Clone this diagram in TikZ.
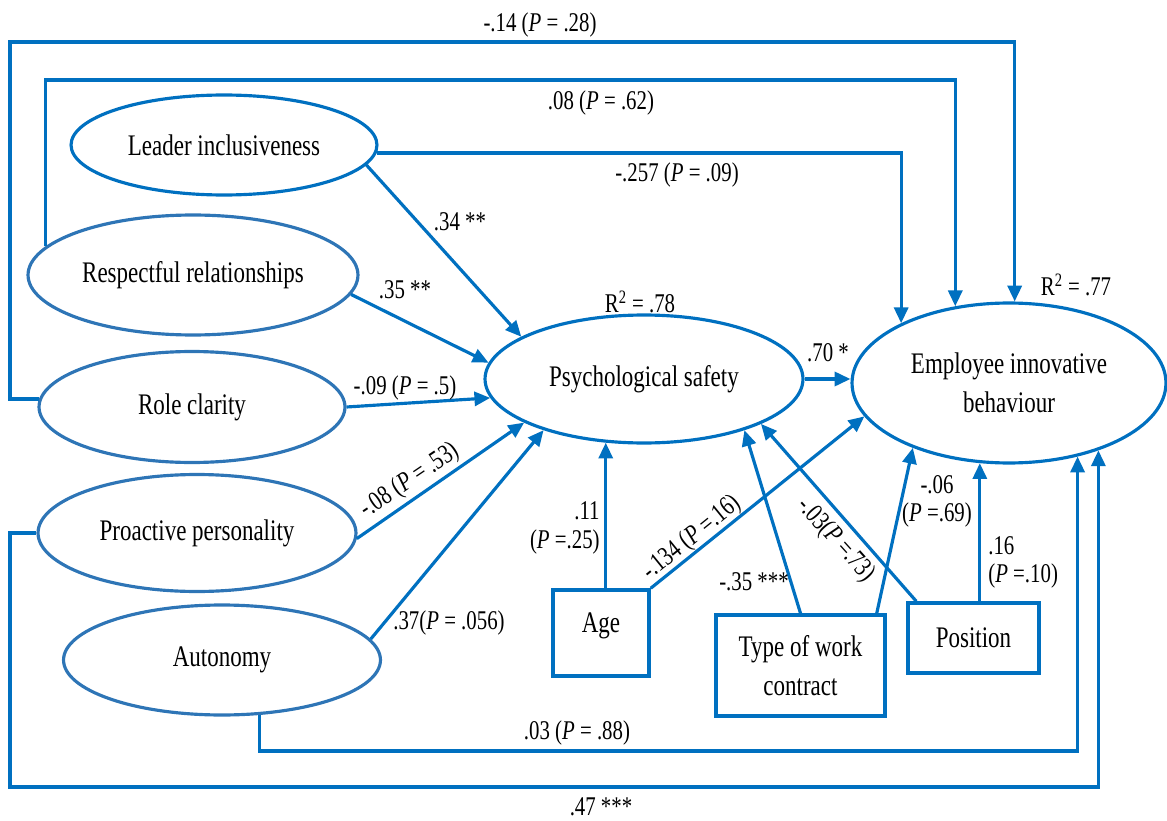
\documentclass[tikz,border=0pt]{standalone}
\usepackage{fontspec}
\setmainfont{Liberation Serif}[FakeStretch=0.77]
\usepackage{tikz}
\usetikzlibrary{shapes.geometric,arrows.meta,calc}
\definecolor{semblue}{HTML}{0070C0}
\definecolor{ovalblue}{HTML}{2E75B6}
\tikzset{
        latent/.style = {draw=semblue, ellipse, line width=1.8pt,
            inner sep=0pt, align=center,
            font=\fontsize{17}{22}\selectfont},
        soft/.style = {draw=ovalblue},
        block/.style = {draw=semblue, rectangle, line width=2pt,
            inner sep=0pt, align=center,
            font=\fontsize{17}{22}\selectfont},
        arrow/.style = {draw=semblue, line width=1.8pt,
            -{Triangle[length=9pt,width=8pt]}},
        coef/.style = {inner sep=0pt, font=\fontsize{15.4}{16}\selectfont},
    }

\begin{document}
\begin{tikzpicture}[x=0.02cm,y=-0.02cm]
    \useasboundingbox (0,0) rectangle (1167,821);

    % exogenous factors
    \node[latent, minimum width=6.12cm, minimum height=2cm] (lead) at (224,145) {Leader inclusiveness};
    \node[latent, soft, minimum width=6.6cm, minimum height=2.4cm] (resp) at (193,275) {Respectful relationships};
    \node[latent, soft, minimum width=6.12cm, minimum height=2.22cm] (role) at (192,407) {Role clarity};
    \node[latent, soft, minimum width=6.36cm, minimum height=2.34cm] (pro) at (197,533) {Proactive personality};
    \node[latent, soft, minimum width=6.34cm, minimum height=2.2cm] (auto) at (222,660) {Autonomy};

    % mediator and outcome
    \node[latent, minimum width=6.36cm, minimum height=2.56cm] (ps) at (644,379) {Psychological safety};
    \node[latent, minimum width=6.28cm, minimum height=3.2cm] (eib) at (1009,383) {Employee innovative\\behaviour};

    % controls
    \node[block, minimum width=1.92cm, minimum height=1.72cm] (age) at (601,633) {\raisebox{0.4cm}{Age}};
    \node[block, minimum width=3.38cm, minimum height=2.02cm] (type) at (800.5,665.5) {Type of work\\contract};
    \node[block, minimum width=2.62cm, minimum height=1.4cm] (pos) at (973.5,638) {Position};

    \coordinate (c1) at (10,42);
    \coordinate (c2) at (48,80);
    \coordinate (c3) at (258,751);
    \coordinate (c4) at (10,787);

    % direct paths to the outcome
    \draw[arrow] (role.177) -| (c1) -| (eib.86);
    \draw[arrow] (resp.169) |- (c2) -| (eib.125);
    \draw[arrow] (lead.-3) -| (eib.151);
    \draw[arrow] (auto.-56) |- (c3) -| (eib.-47);
    \draw[arrow] (pro.west) -| (c4) -| (eib.-37);

    % paths to the mediator
    \draw[arrow] (lead.-8) -- (ps.161);
    \draw[arrow] (resp.-7) -- (ps.174);
    \draw[arrow] (role.east) -- (ps.187);
    \draw[arrow] (pro.-2) -- (ps.200);
    \draw[arrow] (auto.8) -- (ps.207);
    \draw[arrow] (ps.east) -- (ps.east -| eib.west);

    % control paths
    \draw[arrow] (age.north -| ps.239) -- (ps.239);
    \draw[arrow] (age.north east) -- (eib.193);
    \draw[arrow] (type.north) -- (ps.-27);
    \draw[arrow] ($(type.north east)+(-10,0)$) -- (eib.214);
    \draw[arrow] ($(pos.north west)+(10,0)$) -- (ps.-21);
    \draw[arrow] (pos.north -| eib.250) -- (eib.250);

    % coefficients
    \node[coef] (l14) at (540,25) {-.14 (\textit{P} = .28)};
    \node[coef] (l08) at (601,103) {.08 (\textit{P} = .62)};
    \node[coef] (l257) at (677,175) {-.257 (\textit{P} = .09)};
    \node[coef] (l34) at (460,222) {.34 **};
    \node[coef] (l35) at (405,290) {.35 **};
    \node[coef] (l09) at (405,388) {-.09 (\textit{P} = .5)};
    \node[coef, rotate=34] (l08b) at (410,481) {-.08 (\textit{P} = .53)};
    \node[coef] (l37) at (449,623) {.37(\textit{P} = .056)};
    \node[coef, align=right, anchor=east] (l11) at (600,528) {.11\\(\textit{P} =.25)};
    \node[coef, rotate=39] (l134) at (692,538) {-.134 (\textit{P} =.16)};
    \node[coef] (l35b) at (754,582) {-.35 ***};
    \node[coef, rotate=-48] (l03) at (836,540) {-.03(\textit{P} =.73)};
    \node[coef, align=center] (l06) at (937,501) {-.06\\(\textit{P} =.69)};
    \node[coef, align=left, anchor=west] (l16) at (988,562) {.16\\(\textit{P} =.10)};
    \node[coef] (l70) at (828,353) {.70 *};
    \node[coef] (r78) at (640,302) {R\textsuperscript{2} = .78};
    \node[coef] (r77) at (1076,285) {R\textsuperscript{2} = .77};
    \node[coef] (l03b) at (577,733) {.03 (\textit{P} = .88)};
    \node[coef] (l47) at (601,807) {.47 ***};
\end{tikzpicture}
\end{document}
